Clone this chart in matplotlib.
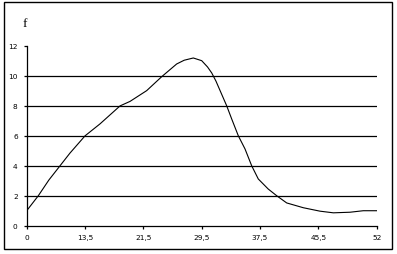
import matplotlib
matplotlib.use("Agg")
import matplotlib.pyplot as plt
from matplotlib.patches import Rectangle

categories = ["0", "13,5", "21,5", "29,5", "37,5", "45,5", "52"]
y_ticks = [0, 2, 4, 6, 8, 10, 12]

# curve (x in category-index units)
curve_x = [0.0, 0.199, 0.38, 0.571, 0.742, 1.0, 1.257, 1.6, 1.771, 2.057, 2.314,
           2.571, 2.7, 2.856, 3.0, 3.1, 3.172, 3.245, 3.429, 3.514, 3.628,
           3.742, 3.857, 3.97, 4.14, 4.286, 4.457, 4.742, 5.028, 5.257, 5.543,
           5.77, 6.0]
curve_y = [1.0, 2.0, 3.05, 4.0, 4.85, 6.0, 6.8, 8.0, 8.3, 9.02, 9.95,
           10.8, 11.05, 11.2, 11.02, 10.6, 10.2, 9.65, 8.0, 7.13, 6.0,
           5.13, 4.0, 3.12, 2.45, 2.0, 1.52, 1.2, 0.97, 0.86, 0.9,
           1.0, 1.0]

fig = plt.figure(figsize=(3.97, 2.55), dpi=100)
ax = fig.add_axes([26.7 / 397, 28.3 / 255, 350 / 397, 179.7 / 255])

for v in y_ticks[1:-1]:
    ax.axhline(v, color="black", lw=0.9, zorder=1)

ax.plot(curve_x, curve_y, color="black", lw=0.8, zorder=3)

ax.set_xlim(0, len(categories) - 1)
ax.set_ylim(y_ticks[0], y_ticks[-1])
ax.set_xticks(range(len(categories)))
ax.set_xticklabels(categories)
ax.set_yticks(y_ticks)
ax.set_yticklabels([str(v) for v in y_ticks])

for s in ["top", "right"]:
    ax.spines[s].set_visible(False)
for s in ["left", "bottom"]:
    ax.spines[s].set_linewidth(0.9)
    ax.spines[s].set_color("black")

ax.tick_params(axis="both", direction="out", length=2.5, width=0.9, colors="black",
               labelsize=5.3)
ax.tick_params(axis="y", pad=4)
ax.tick_params(axis="x", pad=3.5)
for lbl in ax.get_xticklabels() + ax.get_yticklabels():
    lbl.set_fontfamily("DejaVu Sans")

fig.text(25 / 397, 1 - 24 / 255, "f", family="Liberation Serif", fontsize=9.5,
         ha="center", va="center")

fig.patches.append(Rectangle((4 / 397, 5 / 255), 388 / 397, 247 / 255,
                             transform=fig.transFigure, fill=False,
                             edgecolor="black", lw=1.0))

fig.savefig("out.png", dpi=100)
